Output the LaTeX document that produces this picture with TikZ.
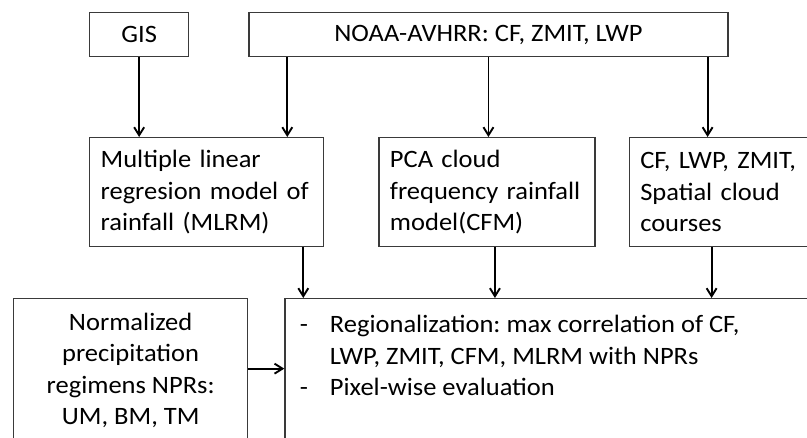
\documentclass[tikz,border=0pt]{standalone}
\usepackage{fontspec}
\setmainfont{Carlito}[FakeStretch=1.06]
\usetikzlibrary{arrows.meta,positioning}
\definecolor{cInk}{HTML}{3A3A3A}
\tikzset{
  >={Straight Barb[length=8pt,width=10pt]},
  box/.style ={draw=cInk,line width=1.3pt,fill=white,align=center,inner sep=0pt,
               font=\fontsize{25}{31.5}\selectfont\frenchspacing},
  lbox/.style={box,align=left,inner xsep=11pt},
  ar/.style  ={->,line width=1.9pt,black},
}

\begin{document}
\begin{tikzpicture}[x=1pt,y=-1pt]
\useasboundingbox (0,0) rectangle (807,438);
\clip (0,0) rectangle (807,438);
\node[box,anchor=north west,minimum width=99pt,minimum height=44pt] (gis) at (89,12) {GIS};
\node[box,right=59pt of gis,minimum width=479pt,minimum height=44pt] (noaa) {NOAA-AVHRR: CF, ZMIT, LWP};
\node[lbox,anchor=north west,minimum width=234pt,minimum height=109pt,text width=212pt] (mlrm) at (89,137)
  {Multiple linear\\ regresion model of\\ rainfall (MLRM)};
\node[lbox,right=54pt of mlrm,minimum width=216pt,minimum height=109pt,text width=194pt] (pca)
  {PCA cloud\\ frequency rainfall\\ model(CFM)};
\node[lbox,right=33pt of pca,minimum width=200pt,minimum height=109pt,text width=178pt] (cfs)
  {CF, LWP, ZMIT,\\ Spatial cloud\\ courses};
\node[box,anchor=north west,minimum width=234pt,minimum height=144pt] (npr) at (13,298)
  {Normalized\\ precipitation\\ regimens NPRs:\\ UM, BM, TM};
\node[box,right=36pt of npr,minimum width=540pt,minimum height=144pt] (res)
  {\parbox[c][120pt][t]{510pt}{\begin{tabular}{@{}p{30pt}@{}l@{}}
   -&Regionalization: max correlation of CF,\\
    &LWP, ZMIT, CFM, MLRM with NPRs\\
   -&Pixel-wise evaluation
   \end{tabular}}};
\draw[ar] (gis) -- (gis |- mlrm.north);
\draw[ar] ([xshift=39pt]noaa.south west) -- ([xshift=39pt]noaa.south west |- mlrm.north);
\draw[ar] (noaa) -- (noaa |- pca.north);
\draw[ar] ([xshift=-21pt]noaa.south east) -- ([xshift=-21pt]noaa.south east |- cfs.north);
\draw[ar] ([xshift=-21pt]mlrm.south east) -- ([xshift=-21pt]mlrm.south east |- res.north);
\draw[ar] ([xshift=8pt]pca.south) -- ([xshift=8pt]pca.south |- res.north);
\draw[ar] ([xshift=83pt]cfs.south west) -- ([xshift=83pt]cfs.south west |- res.north);
\draw[ar] ([yshift=2pt]npr.east) -- ([yshift=2pt]npr.east -| res.west);
\end{tikzpicture}
\end{document}
